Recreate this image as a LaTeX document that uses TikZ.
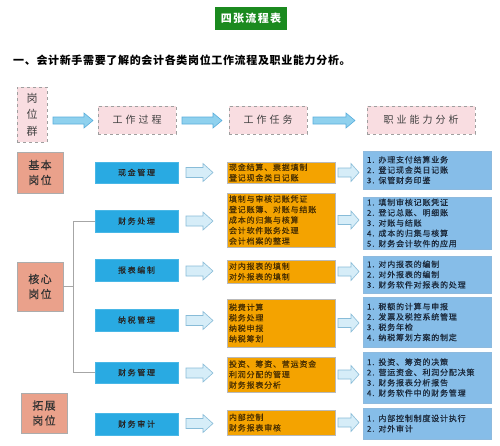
\documentclass[tikz,border=0pt]{standalone}
\usepackage{fontspec}
\setmainfont{Noto Sans CJK SC}
\newfontfamily\cjkA[LetterSpace=10,FakeBold=0.4]{Noto Sans CJK SC}
\newfontfamily\cjkB[LetterSpace=20,FakeBold=0.4]{Noto Sans CJK SC}
\newfontfamily\cjkC[LetterSpace=30]{Noto Sans CJK SC}
\newfontfamily\cjkD[LetterSpace=12,FakeBold=0.3]{Noto Sans CJK SC}
\newfontfamily\cjkH[LetterSpace=6]{Noto Sans CJK SC}
\newfontfamily\cjkT[LetterSpace=12]{Noto Sans CJK SC}
\definecolor{titlegreen}{HTML}{1B8A1F}
\definecolor{pinkc}{HTML}{F9DDE1}
\definecolor{salmonc}{HTML}{EAA18B}
\definecolor{procblue}{HTML}{29AAE2}
\definecolor{orangec}{HTML}{F4A300}
\definecolor{skillblue}{HTML}{86BDE8}
\definecolor{skillborder}{HTML}{5E9CD0}
\definecolor{bigarrfill}{HTML}{8FD1EE}
\definecolor{bigarrdraw}{HTML}{5AAEDC}
\definecolor{smarrfill}{HTML}{D6EDF8}
\definecolor{smarrdraw}{HTML}{88BCD8}
\definecolor{tasktext}{HTML}{4A3000}
\definecolor{skilltext}{HTML}{1C2A3C}
\tikzset{
  pinkbox/.style={draw=gray!75, dashed, line width=0.8pt, fill=pinkc, inner sep=0pt, text=black!75},
  salmonbox/.style={draw=gray!65, line width=0.8pt, fill=salmonc, inner sep=0pt, align=center,
    font=\cjkD\fontsize{11}{15}\selectfont, text=black!80},
  procbox/.style={draw=procblue!85!white, fill=procblue, inner sep=0pt, minimum width=83pt,
    minimum height=21.5pt, font=\cjkB\fontsize{8}{10}\selectfont, text=black!85},
  taskbox/.style={draw=gray!55, fill=orangec, inner xsep=2pt, inner ysep=0pt, text width=104pt,
    align=left, font=\cjkA\fontsize{8}{10.5}\selectfont, text=tasktext},
  skillbox/.style={draw=skillborder!70, fill=skillblue, inner xsep=4pt, inner ysep=0pt, text width=120pt,
    align=left, font=\cjkA\fontsize{8}{10.3}\selectfont, text=skilltext},
  bigarr/.style={draw=bigarrdraw, fill=bigarrfill, line width=0.6pt},
  smarr/.style={draw=smarrdraw, fill=smarrfill, line width=0.6pt},
  treeline/.style={draw=gray!70, line width=0.8pt}
}
% block arrow: x1, x2, y, body half height, head half height, head length, style
\newcommand\blockarrow[7]{%
  \draw[#7] (#1,#3-#4) -- (#2-#6,#3-#4) -- (#2-#6,#3-#5) -- (#2,#3) -- (#2-#6,#3+#5)
    -- (#2-#6,#3+#4) -- (#1,#3+#4) -- cycle;}
\begin{document}
\begin{tikzpicture}[x=1pt,y=-1pt]
\useasboundingbox[fill=white] (0,0) rectangle (500,445);

% title
\node[fill=titlegreen, minimum width=72pt, minimum height=23pt, inner sep=0pt,
  text=white, font=\cjkT\bfseries\fontsize{11}{13}\selectfont] (title) at (251,18.5) {四张流程表};
\node[anchor=west, inner sep=0pt, font=\cjkH\bfseries\fontsize{11}{13}\selectfont] (heading) at (13,60)
  {一、会计新手需要了解的会计各类岗位工作流程及职业能力分析。};

% header row
\node[pinkbox, minimum width=30pt, minimum height=55pt, align=center,
  font=\fontsize{11}{16.5}\selectfont] (h0) at (32,114.5) {岗\\位\\群};
\node[pinkbox, minimum width=78pt, minimum height=28pt, font=\cjkC\fontsize{10}{12}\selectfont] (h1) at (137,120) {工作过程};
\node[pinkbox, minimum width=78pt, minimum height=28pt, font=\cjkC\fontsize{10}{12}\selectfont] (h2) at (268,120) {工作任务};
\node[pinkbox, minimum width=108pt, minimum height=28pt, font=\cjkC\fontsize{10}{12}\selectfont] (h3) at (421,120) {职业能力分析};
\blockarrow{53}{93}{120.5}{3.5}{7.5}{9}{bigarr}
\blockarrow{182}{222}{120.5}{3.5}{7.5}{9}{bigarr}
\blockarrow{313}{355}{120.5}{3.5}{7.5}{9}{bigarr}

% position groups
\node[salmonbox, minimum width=46pt, minimum height=41pt] (basic) at (40,172.5) {基本\\岗位};
\node[salmonbox, minimum width=46pt, minimum height=49pt] (core) at (40,286.5) {核心\\岗位};
\node[salmonbox, minimum width=46pt, minimum height=40pt] (ext) at (44,413) {拓展\\岗位};

% processes
\node[procbox] (p1) at (136.5,172.5) {现金管理};
\node[procbox] (p2) at (136.5,221) {财务处理};
\node[procbox] (p3) at (136.5,270) {报表编制};
\node[procbox] (p4) at (136.5,320) {纳税管理};
\node[procbox] (p5) at (136.5,372.5) {财务管理};
\node[procbox] (p6) at (136.5,424) {财务审计};

% tree
\coordinate (j) at (73,286.5);
\draw[treeline] (core.east) -- (j);
\draw[treeline] (p2.west) -| (j);
\draw[treeline] (p5.west) -| (j);

% tasks
\node[taskbox, minimum height=21pt] (t1) at (281,172.5) {现金结算、票据填制\\登记现金类日记账};
\node[taskbox, minimum height=54pt] (t2) at (281,220) {填制与审核记账凭证\\登记账簿、对账与结账\\成本的归集与核算\\会计软件账务处理\\会计档案的整理};
\node[taskbox, minimum height=23pt] (t3) at (281,271.5) {对内报表的填制\\对外报表的填制};
\node[taskbox, minimum height=48pt] (t4) at (281,323) {税费计算\\税务处理\\纳税申报\\纳税筹划};
\node[taskbox, minimum height=35pt] (t5) at (281,374.5) {投资、筹资、营运资金\\利润分配的管理\\财务报表分析};
\node[taskbox, minimum height=25pt] (t6) at (281,422.5) {内部控制\\财务报表审核};

% skills
\node[skillbox, minimum height=38pt] (s1) at (427,170) {1. 办理支付结算业务\\2. 登记现金类日记账\\3. 保管财务印鉴};
\node[skillbox, minimum height=52pt] (s2) at (427,223) {1. 填制审核记账凭证\\2. 登记总账、明细账\\3. 对账与结账\\4. 成本的归集与核算\\5. 财务会计软件的应用};
\node[skillbox, minimum height=37pt] (s3) at (427,274.5) {1. 对内报表的编制\\2. 对外报表的编制\\3. 财务软件对报表的处理};
\node[skillbox, minimum height=50pt] (s4) at (427,322) {1. 税额的计算与申报\\2. 发票及税控系统管理\\3. 税务年检\\4. 纳税筹划方案的制定};
\node[skillbox, minimum height=51pt] (s5) at (427,377.5) {1. 投资、筹资的决策\\2. 营运资金、利润分配决策\\3. 财务报表分析报告\\4. 财务软件中的财务管理};
\node[skillbox, minimum height=31pt] (s6) at (427,423.5) {1. 内部控制制度设计执行\\2. 对外审计};

% small arrows
\foreach \yy in {172.5,221,271,320.5,373,423.5}{
  \blockarrow{186}{213}{\yy}{5}{9}{10}{smarr}
}
\foreach \yy in {172.5,220,271.5,323,374.5,422.5}{
  \blockarrow{338}{359}{\yy}{4.5}{9}{8}{smarr}
}
\end{tikzpicture}
\end{document}
